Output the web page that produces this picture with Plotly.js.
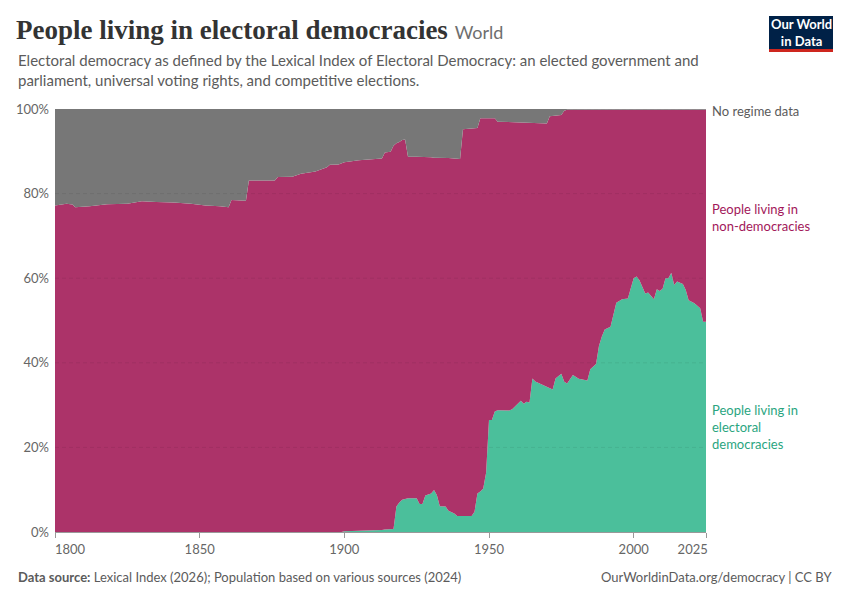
<!DOCTYPE html>
<html>
<head>
<meta charset="utf-8">
<script src="https://cdn.plot.ly/plotly-3.0.1.min.js"></script>
<style>
  html, body { margin: 0; padding: 0; background: #fff; }
  #chart { width: 850px; height: 600px; }
</style>
</head>
<body>
<div id="chart"></div>
<script>
// ---- Data (percent of world population) ----
const years = [1800,1804,1806,1807,1812,1818,1825,1830,1835,1841,1847,1852,1857,1860,1861,1866,1867,1876,1877,1882,1885,1890,1894,1895,1898,1899,
  1900,1905,1910,1912,1913,1914,1916,1917,1918,1919,1920,1921,1922,1925,1926,1927,1928,1930,1931,1932,1933,1935,1936,1938,1939,1940,1941,1944,1945,1946,1947,1948,1949,
  1950,1951,1952,1953,1957,1958,1960,1961,1962,1963,1964,1965,1966,1968,1970,1971,1972,1973,1975,1976,1977,1979,1981,1984,1985,1987,1988,1989,
  1990,1992,1994,1996,1998,1999,2000,2001,2002,2004,2005,2007,2008,2009,2010,2011,2012,2013,2014,2015,2017,2018,2019,2021,2022,2023,2024,2025];

const democracies = [0,0,0,0,0,0,0,0,0,0,0,0,0,0,0,0,0,0,0,0,0,0,0,0,0,0,
  0.2,0.3,0.3,0.5,0.5,0.6,0.6,0.7,6.0,7.0,7.6,7.8,8.0,8.0,6.6,6.6,8.6,9.1,9.9,8.7,6.1,6.0,5.0,4.4,3.8,3.8,3.8,3.8,4.8,9.1,9.6,10.3,14.0,
  26.5,26.5,28.5,28.8,28.7,29.0,30.5,31.0,30.3,30.8,30.6,36.3,35.6,35.0,34.4,34.0,33.7,36.3,37.4,35.5,35.1,37.1,36.2,35.8,38.5,39.7,44.0,46.2,
  47.9,48.5,54.2,55.0,55.2,57.6,60.0,60.4,59.5,56.4,56.6,55.0,57.4,57.0,57.5,60.0,60.0,61.3,58.4,59.2,58.6,57.2,54.8,54.1,53.4,52.9,49.7,49.7];

const nonDemocracies = [77.2,77.6,77.4,76.8,77.0,77.5,77.6,78.2,78.0,77.9,77.6,77.2,77.0,76.8,78.5,78.3,83.1,83.1,83.9,84.0,84.7,85.2,86.2,86.8,86.9,87.1,
  87.2,87.6,87.8,87.7,87.8,89.1,89.3,90.6,85.9,85.2,85.1,85.0,80.7,80.7,82.1,82.1,80.0,79.5,78.6,79.8,82.4,82.4,83.4,83.9,84.5,84.4,91.4,91.5,90.6,86.4,88.2,87.5,83.8,
  71.3,71.3,69.3,68.2,68.2,67.9,66.3,65.8,66.5,65.9,66.1,60.4,61.1,61.6,62.2,64.3,64.7,62.1,61.2,64.1,64.7,62.7,63.6,64.0,61.3,60.1,55.8,53.6,
  51.9,51.3,45.6,44.8,44.6,42.2,39.8,39.4,40.3,43.4,43.2,44.8,42.4,42.8,42.3,39.8,39.8,38.5,41.4,40.6,41.2,42.6,45.0,45.7,46.4,46.9,50.1,50.1];

const noRegimeData = [22.8,22.4,22.6,23.2,23.0,22.5,22.4,21.8,22.0,22.1,22.4,22.8,23.0,23.2,21.5,21.7,16.9,16.9,16.1,16.0,15.3,14.8,13.8,13.2,13.1,12.9,
  12.6,12.1,11.9,11.8,11.7,10.3,10.1,8.7,8.1,7.8,7.3,7.2,11.3,11.3,11.3,11.3,11.4,11.4,11.5,11.5,11.5,11.6,11.6,11.7,11.7,11.8,4.8,4.7,4.6,4.5,2.2,2.2,2.2,
  2.2,2.2,2.2,3.0,3.1,3.1,3.2,3.2,3.2,3.3,3.3,3.3,3.3,3.4,3.4,1.7,1.6,1.6,1.4,0.4,0.2,0.2,0.2,0.2,0.2,0.2,0.2,0.2,
  0.2,0.2,0.2,0.2,0.2,0.2,0.2,0.2,0.2,0.2,0.2,0.2,0.2,0.2,0.2,0.2,0.2,0.2,0.2,0.2,0.2,0.2,0.2,0.2,0.2,0.2,0.2,0.2];

const seriesNames = ['People living in electoral democracies', 'People living in non-democracies', 'No regime data'];
const seriesColors = ['#4bbf9b', '#ac3369', '#777777'];
const labelColors = ['#2aa57f', '#a2185a', '#5b5b5b'];
const labelTexts = ['People living in<br>electoral<br>democracies', 'People living in<br>non-democracies', 'No regime data'];
const xTicks = [1800, 1850, 1900, 1950, 2000, 2025];
const xTickText = ['\u00a0\u00a0\u00a0\u00a0\u00a0\u00a0\u00a0\u00a0\u00a01800', '1850', '1900', '1950', '2000', '2025\u00a0\u00a0\u00a0\u00a0\u00a0\u00a0\u00a0\u00a0'];
const yTicks = [0, 20, 40, 60, 80, 100];
const yTickText = ['0%', '20%', '40%', '60%', '80%', '100%'];

const seriesValues = [democracies, nonDemocracies, noRegimeData];

const traces = seriesValues.map((vals, i) => ({
  type: 'scatter',
  mode: 'lines',
  x: years,
  y: vals,
  name: seriesNames[i],
  stackgroup: 'one',
  line: { width: 0, color: seriesColors[i] },
  fillcolor: seriesColors[i],
  hoverinfo: 'skip'
}));

const L = 55, R = 706, T = 109, B = 532;
const W = 850, H = 600;
const px = (x) => (x - L) / (R - L);
const py = (y) => (B - y) / (B - T);

const gridShapes = [20, 40, 60, 80].map(v => ({
  type: 'line', xref: 'paper', yref: 'y', x0: 0, x1: 1, y0: v, y1: v,
  line: { color: 'rgba(0,0,0,0.07)', width: 1, dash: '4px,3px' }, layer: 'above'
}));

// right-side series labels (centre positions in pixels)
const labelCentres = [427, 217, 111];
const labelAnns = labelTexts.map((t, i) => ({
  xref: 'paper', yref: 'paper', x: 1, xshift: 4, y: py(labelCentres[i]),
  xanchor: 'left', yanchor: 'middle', align: 'left', showarrow: false,
  text: t, font: { family: 'Lato', size: 13, color: labelColors[i] }
}));

const layout = {
  width: W, height: H,
  margin: { l: L, r: W - R, t: T, b: H - B, pad: 0 },
  paper_bgcolor: '#ffffff',
  plot_bgcolor: '#ffffff',
  showlegend: false,
  font: { family: 'Lato, sans-serif', color: '#5b5b5b' },
  title: {
    text: 'People living in electoral democracies <span style="font-family:Lato;font-weight:normal;font-size:18px;color:#6e6e6e">World</span>',
    xref: 'container', yref: 'container',
    x: 16 / W, xanchor: 'left',
    y: 1 - 30 / H, yanchor: 'middle',
    font: { family: '"Liberation Serif", serif', size: 27, color: '#333333', weight: 'bold' }
  },
  xaxis: {
    range: [1800, 2025],
    tickmode: 'array', tickvals: xTicks, ticktext: xTickText,
    showgrid: false, zeroline: false,
    showline: true, linecolor: '#999999', linewidth: 1,
    ticks: 'outside', ticklen: 5, tickcolor: '#999999',
    tickfont: { family: 'Lato', size: 13, color: '#666666' },
    fixedrange: true
  },
  yaxis: {
    range: [0, 100],
    tickmode: 'array', tickvals: yTicks, ticktext: yTickText,
    showgrid: false, zeroline: false, showline: false,
    ticks: '', ticklabelstandoff: 5,
    tickfont: { family: 'Lato', size: 13, color: '#666666' },
    fixedrange: true
  },
  shapes: gridShapes.concat([
    { type: 'line', xref: 'paper', yref: 'y', x0: 0, x1: 1, y0: 100, y1: 100,
      line: { color: 'rgba(0,0,0,0.1)', width: 1, dash: '4px,3px' }, layer: 'below' },
    { type: 'rect', xref: 'paper', yref: 'paper', x0: px(769), x1: px(833), y0: py(49), y1: py(16),
      fillcolor: '#002147', line: { width: 0 } },
    { type: 'rect', xref: 'paper', yref: 'paper', x0: px(769), x1: px(833), y0: py(52), y1: py(49),
      fillcolor: '#ce261e', line: { width: 0 } }
  ]),
  annotations: [
    { xref: 'paper', yref: 'paper', x: px(16), y: py(49), xanchor: 'left', yanchor: 'top', align: 'left',
      showarrow: false,
      text: 'Electoral democracy as defined by the Lexical Index of Electoral Democracy: an elected government and<br>parliament, universal voting rights, and competitive elections.',
      font: { family: 'Lato', size: 15, color: '#5b5b5b' } },
    { xref: 'paper', yref: 'paper', x: px(801), y: py(32.5), xanchor: 'center', yanchor: 'middle', align: 'center',
      showarrow: false, text: 'Our World<br>in Data',
      font: { family: 'Lato', size: 13, color: '#ffffff', weight: 'bold' } },
    { xref: 'paper', yref: 'paper', x: px(16), y: py(577), xanchor: 'left', yanchor: 'middle', align: 'left',
      showarrow: false,
      text: '<b>Data source:</b> Lexical Index (2026); Population based on various sources (2024)',
      font: { family: 'Lato', size: 13, color: '#5b5b5b' } },
    { xref: 'paper', yref: 'paper', x: px(834), y: py(577), xanchor: 'right', yanchor: 'middle', align: 'right',
      showarrow: false,
      text: 'OurWorldinData.org/democracy | CC BY',
      font: { family: 'Lato', size: 13, color: '#5b5b5b' } }
  ].concat(labelAnns)
};

Plotly.newPlot('chart', traces, layout, { displayModeBar: false, staticPlot: true });
</script>
</body>
</html>
